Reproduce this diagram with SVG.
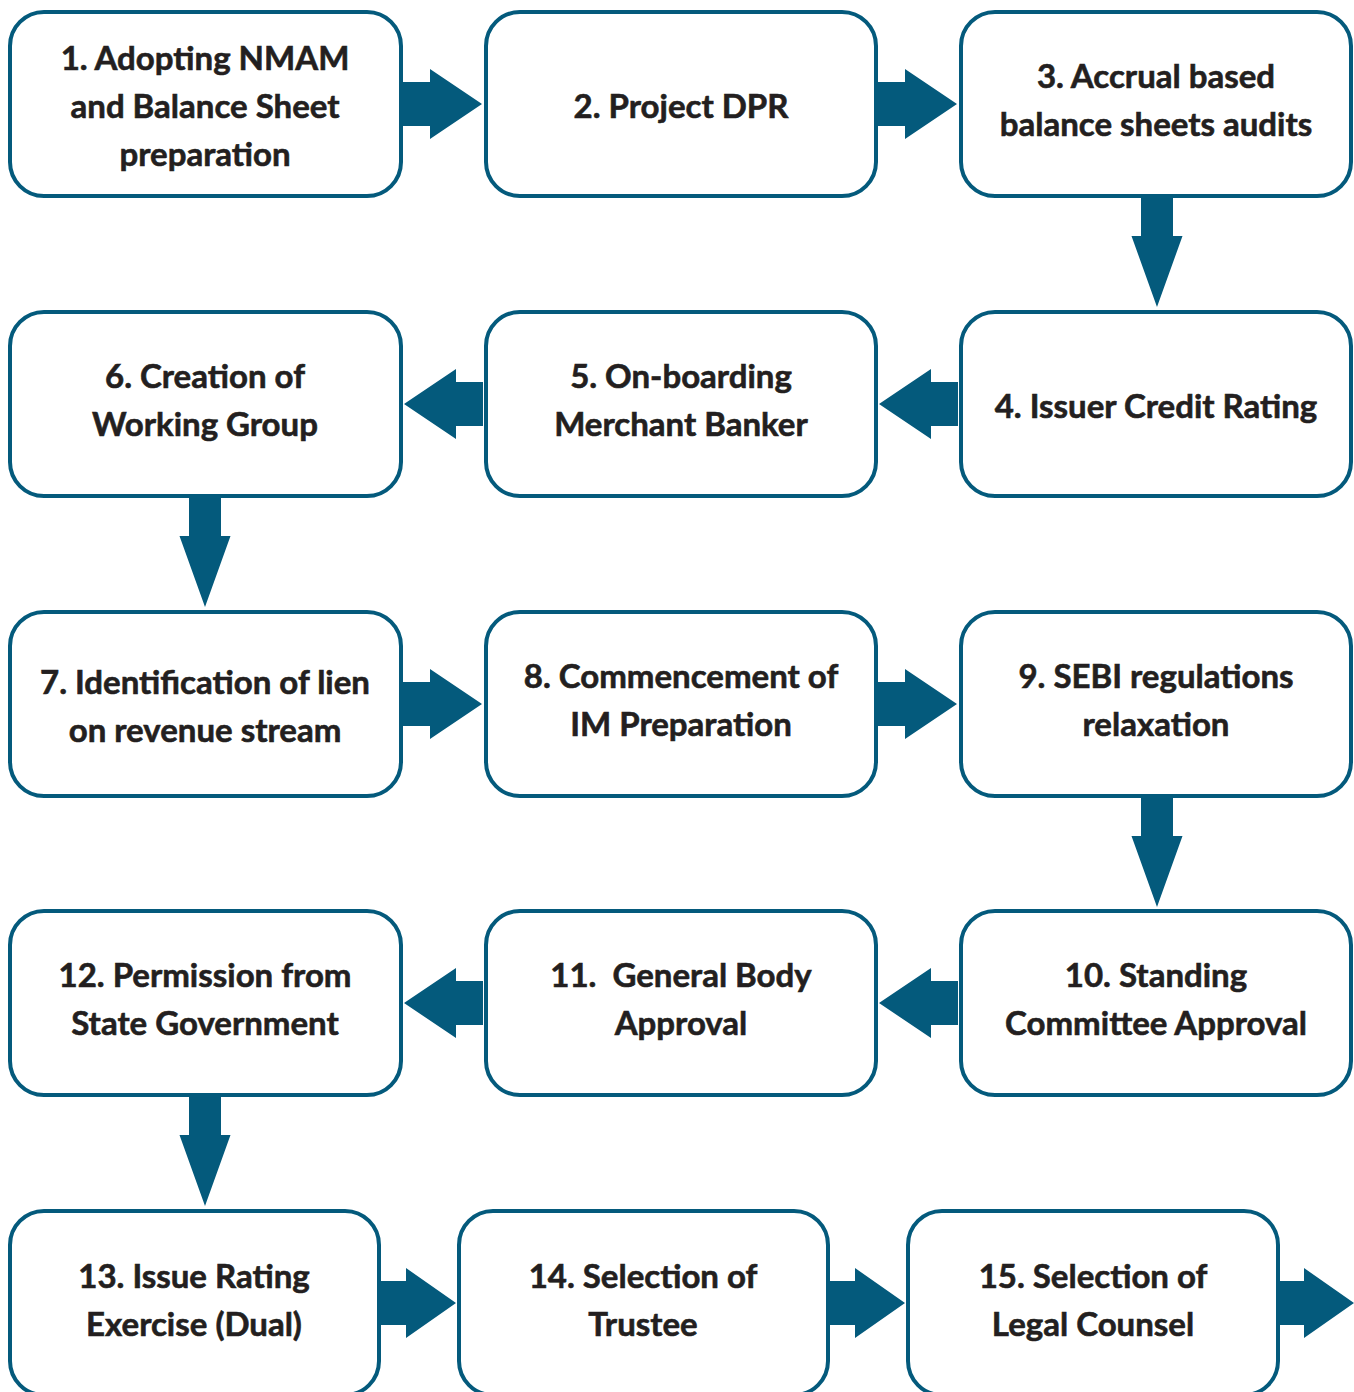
<svg xmlns="http://www.w3.org/2000/svg" width="1354" height="1392" viewBox="0 0 1354 1392">
<style>
.box{fill:#ffffff;stroke:#045a7c;stroke-width:4}
.arr{fill:#045a7c}
text{font-family:Lato,"Liberation Sans",sans-serif;font-weight:700;font-size:33px;fill:#231f20;stroke:#231f20;stroke-width:0.6;text-anchor:middle}
</style>
<defs>
<path id="ar" d="M-79,-22 H-52 V-35 L0,0 L-52,35 V22 H-79 Z"/>
<path id="ar5" d="M-76,-22 H-50 V-35 L0,0 L-50,35 V22 H-76 Z"/>
<path id="al" d="M79,-22 H52 V-35 L0,0 L52,35 V22 H79 Z"/>
<path id="ad" d="M-16,-110 H16 V-71 H25.5 L0,0 L-25.5,-71 H-16 Z"/>
</defs>
<rect width="1354" height="1392" fill="#ffffff"/>
<g id="connectors">
<use href="#ar" x="482" y="104" class="arr"/>
<use href="#ar" x="957" y="104" class="arr"/>
<use href="#ad" x="1157" y="307" class="arr"/>
<use href="#al" x="879" y="404" class="arr"/>
<use href="#al" x="404" y="404" class="arr"/>
<use href="#ad" x="205" y="607" class="arr"/>
<use href="#ar" x="482" y="704" class="arr"/>
<use href="#ar" x="957" y="704" class="arr"/>
<use href="#ad" x="1157" y="907" class="arr"/>
<use href="#al" x="879" y="1003" class="arr"/>
<use href="#al" x="404" y="1003" class="arr"/>
<use href="#ad" x="205" y="1206" class="arr"/>
<use href="#ar5" x="456" y="1303" class="arr"/>
<use href="#ar5" x="905" y="1303" class="arr"/>
<use href="#ar5" x="1354" y="1303" class="arr"/>
</g>
<g id="n1"><rect class="box" x="10" y="12" width="391" height="184" rx="34"/><text x="205" y="70">1. Adopting NMAM</text><text x="205" y="118">and Balance Sheet</text><text x="205" y="166">preparation</text></g>
<g id="n2"><rect class="box" x="486" y="12" width="390" height="184" rx="34"/><text x="681" y="118">2. Project DPR</text></g>
<g id="n3"><rect class="box" x="961" y="12" width="390" height="184" rx="34"/><text x="1156" y="88">3. Accrual based</text><text x="1156" y="136">balance sheets audits</text></g>
<g id="n4"><rect class="box" x="961" y="312" width="390" height="184" rx="34"/><text x="1156" y="418">4. Issuer Credit Rating</text></g>
<g id="n5"><rect class="box" x="486" y="312" width="390" height="184" rx="34"/><text x="681" y="388">5. On-boarding</text><text x="681" y="436">Merchant Banker</text></g>
<g id="n6"><rect class="box" x="10" y="312" width="391" height="184" rx="34"/><text x="205" y="388">6. Creation of</text><text x="205" y="436">Working Group</text></g>
<g id="n7"><rect class="box" x="10" y="612" width="391" height="184" rx="34"/><text x="205" y="694">7. Identification of lien</text><text x="205" y="742">on revenue stream</text></g>
<g id="n8"><rect class="box" x="486" y="612" width="390" height="184" rx="34"/><text x="681" y="688">8. Commencement of</text><text x="681" y="736">IM Preparation</text></g>
<g id="n9"><rect class="box" x="961" y="612" width="390" height="184" rx="34"/><text x="1156" y="688">9. SEBI regulations</text><text x="1156" y="736">relaxation</text></g>
<g id="n10"><rect class="box" x="961" y="911" width="390" height="184" rx="34"/><text x="1156" y="987">10. Standing</text><text x="1156" y="1035">Committee Approval</text></g>
<g id="n11"><rect class="box" x="486" y="911" width="390" height="184" rx="34"/><text x="681" y="987" xml:space="preserve">11.  General Body</text><text x="681" y="1035">Approval</text></g>
<g id="n12"><rect class="box" x="10" y="911" width="391" height="184" rx="34"/><text x="205" y="987">12. Permission from</text><text x="205" y="1035">State Government</text></g>
<g id="n13"><rect class="box" x="10" y="1211" width="369" height="184" rx="34"/><text x="194" y="1288">13. Issue Rating</text><text x="194" y="1336">Exercise (Dual)</text></g>
<g id="n14"><rect class="box" x="459" y="1211" width="369" height="184" rx="34"/><text x="643" y="1288">14. Selection of</text><text x="643" y="1336">Trustee</text></g>
<g id="n15"><rect class="box" x="908" y="1211" width="370" height="184" rx="34"/><text x="1093" y="1288">15. Selection of</text><text x="1093" y="1336">Legal Counsel</text></g>
</svg>
